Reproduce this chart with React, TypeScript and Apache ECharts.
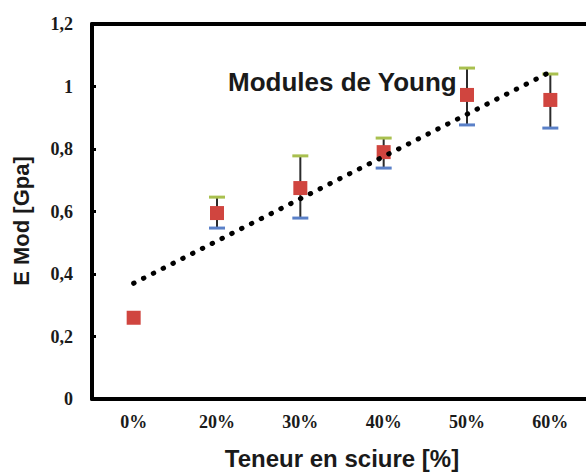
import React, { useEffect, useRef } from "react";
import * as echarts from "echarts";

// Sawdust content categories
const categories: string[] = ["0%", "20%", "30%", "40%", "50%", "60%"];
// Mean Young's modulus [GPa]
const modulus: number[] = [0.26, 0.595, 0.675, 0.79, 0.973, 0.957];
// Error bar extents [GPa]
const errHigh: number[] = [0.26, 0.646, 0.778, 0.835, 1.059, 1.04];
const errLow: number[] = [0.26, 0.547, 0.579, 0.739, 0.877, 0.867];
const yTicks: number[] = [0, 0.2, 0.4, 0.6, 0.8, 1, 1.2];

// Least-squares linear trend over the category index
function linearTrend(values: number[]): number[] {
  const n = values.length;
  const xs = values.map((_, i) => i);
  const mx = xs.reduce((a, b) => a + b, 0) / n;
  const my = values.reduce((a, b) => a + b, 0) / n;
  let sxy = 0;
  let sxx = 0;
  for (let i = 0; i < n; i++) {
    sxy += (xs[i] - mx) * (values[i] - my);
    sxx += (xs[i] - mx) * (xs[i] - mx);
  }
  const slope = sxy / sxx;
  const intercept = my - slope * mx;
  return xs.map((x) => intercept + slope * x);
}

const SANS = "Liberation Sans, Arial, sans-serif";
const SERIF = "Liberation Serif, Times New Roman, serif";

export default function App() {
  const ref = useRef<HTMLDivElement>(null);

  useEffect(() => {
    document.body.style.margin = "0";
    if (!ref.current) return;
    const chart = echarts.init(ref.current, undefined, { renderer: "svg" });
    const trend = linearTrend(modulus);
    const errData = categories.map((_, i) => [i, errLow[i], errHigh[i]]);

    chart.setOption({
      animation: false,
      backgroundColor: "#ffffff",
      grid: {
        left: 92,
        top: 24,
        width: 500,
        height: 375,
        outerBoundsMode: "none",
        show: false,
      },
      xAxis: [
        {
          type: "category",
          data: categories,
          boundaryGap: true,
          axisLine: { lineStyle: { color: "#000", width: 4 } },
          axisTick: { inside: true, length: 4, lineStyle: { color: "#000", width: 3 } },
          axisLabel: {
            margin: 14,
            color: "#1a1a1a",
            fontFamily: SERIF,
            fontWeight: "bold",
            fontSize: 18,
          },
          name: "Teneur en sciure [%]",
          nameLocation: "middle",
          nameGap: 47,
          nameTextStyle: {
            color: "#1a1a1a",
            fontFamily: SANS,
            fontWeight: "bold",
            fontSize: 24,
          },
          splitLine: { show: false },
        },
        {
          // frame line along the top of the plot
          type: "category",
          position: "top",
          data: categories,
          axisLine: { lineStyle: { color: "#000", width: 4 } },
          axisTick: { show: false },
          axisLabel: { show: false },
          splitLine: { show: false },
        },
      ],
      yAxis: {
        type: "value",
        min: 0,
        max: 1.2,
        interval: 0.2,
        axisLine: { show: true, lineStyle: { color: "#000", width: 4 } },
        axisTick: { show: true, inside: true, length: 4, lineStyle: { color: "#000", width: 3 } },
        axisLabel: {
          margin: 19,
          color: "#1a1a1a",
          fontFamily: SERIF,
          fontWeight: "bold",
          fontSize: 18,
          formatter: (v: number) => {
            const r = yTicks.reduce((p, t) => (Math.abs(t - v) < Math.abs(p - v) ? t : p), yTicks[0]);
            return String(Math.round(r * 10) / 10).replace(".", ",");
          },
        },
        splitLine: { show: false },
      },
      graphic: [
        {
          type: "text",
          left: 228,
          top: 69,
          z: 10,
          style: {
            text: "Modules de Young",
            fill: "#1a1a1a",
            font: `bold 26px ${SANS}`,
          },
        },
        {
          type: "text",
          x: 21,
          y: 221,
          rotation: Math.PI / 2,
          style: {
            text: "E Mod [Gpa]",
            fill: "#1a1a1a",
            font: `bold 22px ${SANS}`,
            align: "center",
            verticalAlign: "middle",
          },
        },
      ],
      series: [
        {
          type: "custom",
          z: 1,
          data: errData,
          renderItem: (params: any, api: any) => {
            const idx = api.value(0);
            const top = api.coord([idx, api.value(2)]);
            const bot = api.coord([idx, api.value(1)]);
            const hw = 8;
            if (Math.abs(top[1] - bot[1]) < 1) return { type: "group", children: [] };
            return {
              type: "group",
              children: [
                {
                  type: "line",
                  shape: { x1: top[0], y1: top[1], x2: bot[0], y2: bot[1] },
                  style: { stroke: "#2b2b2b", lineWidth: 2 },
                },
                {
                  type: "line",
                  shape: { x1: top[0] - hw, y1: top[1], x2: top[0] + hw, y2: top[1] },
                  style: { stroke: "#a9c04f", lineWidth: 3 },
                },
                {
                  type: "line",
                  shape: { x1: bot[0] - hw, y1: bot[1], x2: bot[0] + hw, y2: bot[1] },
                  style: { stroke: "#5a80c8", lineWidth: 3 },
                },
              ],
            };
          },
        },
        {
          type: "scatter",
          z: 2,
          data: modulus,
          symbol: "rect",
          symbolSize: 14,
          itemStyle: { color: "#d0453f", opacity: 1 },
        },
        {
          type: "line",
          z: 3,
          data: trend,
          symbol: "none",
          lineStyle: { color: "#000", width: 5, type: [0.5, 10.5], cap: "round" },
        },
      ],
    });

    return () => chart.dispose();
  }, []);

  return <div ref={ref} style={{ width: 586, height: 475 }} />;
}
